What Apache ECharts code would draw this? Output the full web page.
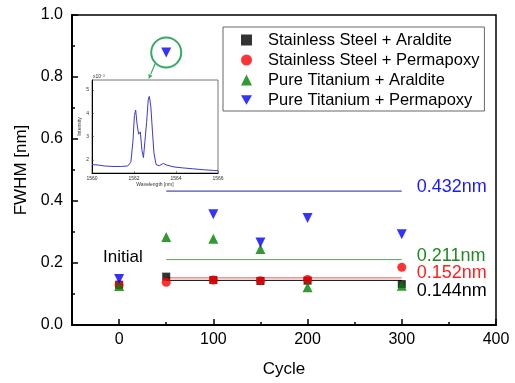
<!DOCTYPE html>
<html>
<head>
<meta charset="utf-8">
<script src="https://cdn.jsdelivr.net/npm/echarts@6/dist/echarts.min.js"></script>
<style>
  html, body { margin: 0; padding: 0; background: #fff; }
  #chart { width: 515px; height: 383px; }
</style>
</head>
<body>
<div id="chart"></div>
<script>
const cycles = [0, 50, 100, 150, 200, 300]
const seriesNames = [
  'Stainless Steel + Araldite',
  'Stainless Steel + Permapoxy',
  'Pure Titanium + Araldite',
  'Pure Titanium + Permapoxy'
]
const ssAraldite = [0.13, 0.156, 0.145, 0.142, 0.143, 0.132]
const ssPermapoxy = [0.13, 0.138, 0.145, 0.143, 0.147, 0.186]
const tiAraldite = [0.126, 0.284, 0.278, 0.245, 0.122, 0.127]
const tiPermapoxy = [0.148, 0.879, 0.357, 0.266, 0.345, 0.293]
// mean FWHM lines, same order as the series
const averageFwhm = [0.144, 0.152, 0.211, 0.432]
const averageRange = [50, 300]
const xTicks = [0, 100, 200, 300, 400]
const xMinorTicks = [50, 150, 250, 350]
// inset spectrum (x10^-3)
const spectrumWavelength = [1560.0, 1560.3, 1560.6, 1561.0, 1561.4, 1561.7, 1561.85, 1561.95, 1562.02, 1562.08,
  1562.15, 1562.22, 1562.3, 1562.38, 1562.45, 1562.52, 1562.6, 1562.68, 1562.73, 1562.8,
  1562.88, 1562.95, 1563.05, 1563.2, 1563.4, 1563.55, 1563.9, 1564.3, 1564.8, 1565.3, 1565.8, 1566.0]
const spectrumIntensity = [1.8, 1.78, 1.74, 1.72, 1.72, 1.74, 1.9, 2.8, 3.9, 4.13,
  3.5, 3.1, 3.2, 2.4, 2.1, 2.8, 3.6, 4.6, 4.72, 4.3,
  3.2, 2.3, 1.8, 1.75, 1.85, 1.78, 1.7, 1.66, 1.62, 1.58, 1.55, 1.54]
const insetYTicks = [2, 3, 4, 5]

const font = 'Arial, "Liberation Sans", sans-serif'
const markColors = ['#000000', '#ff0000', '#008000', '#0000ff']
const lineColors = ['#000000', '#ee5555', '#55aa55', '#22229a']
const labelColors = ['#000000', '#ff2020', '#228822', '#1a1aff']
const labelOffsets = [11, -5, -4, -4]
const symbols = ['rect', 'circle', 'triangle', 'triangle']
const symbolRotates = [0, 0, 0, 180]
const symbolSizes = [8, 9, 10, 10]
const legendIcons = ['rect', 'circle', 'triangle', 'path://M0,0L10,0L5,8.66Z']
const values = [ssAraldite, ssPermapoxy, tiAraldite, tiPermapoxy]

const chart = echarts.init(document.getElementById('chart'))

const scatterSeries = values.map((vals, i) => ({
  name: seriesNames[i],
  type: 'scatter',
  xAxisIndex: 0,
  yAxisIndex: 0,
  symbol: symbols[i],
  symbolRotate: symbolRotates[i],
  symbolSize: symbolSizes[i],
  itemStyle: { color: markColors[i] },
  data: cycles.map((c, j) => [c, vals[j]]),
  z: 3 + i
}))

const lineSeries = averageFwhm.map((v, i) => ({
  name: 'avg' + i,
  type: 'line',
  xAxisIndex: 0,
  yAxisIndex: 0,
  symbol: 'none',
  lineStyle: { color: lineColors[i], width: 1 },
  data: averageRange.map(x => [x, v]),
  endLabel: {
    show: true,
    distance: 15,
    offset: [0, labelOffsets[i]],
    formatter: p => p.value[1].toFixed(3) + 'nm',
    color: labelColors[i],
    fontSize: 18,
    fontFamily: font
  },
  z: 2
}))

chart.setOption({
  animation: false,
  textStyle: { fontFamily: font },
  legend: {
    data: seriesNames.map((name, i) => ({ name, icon: legendIcons[i] })),
    orient: 'vertical',
    left: 223,
    top: 27,
    padding: [3, 5, 1, 18],
    itemWidth: 11,
    itemHeight: 11,
    itemGap: 0,
    symbolKeepAspect: true,
    borderColor: '#666',
    borderWidth: 1,
    backgroundColor: '#fff',
    textStyle: { fontSize: 16.5, lineHeight: 20, color: '#000', fontFamily: font, padding: [0, 0, 0, 11] }
  },
  grid: [
    {
      left: 72, right: 19, top: 15, bottom: 56,
      show: true, borderColor: '#000', borderWidth: 1.5
    },
    {
      left: 92, top: 80, width: 126, height: 93,
      show: true, borderColor: '#777', borderWidth: 1, backgroundColor: '#fff'
    }
  ],
  xAxis: [
    {
      gridIndex: 0,
      type: 'value',
      min: -50,
      max: 400,
      name: 'Cycle',
      nameLocation: 'middle',
      nameGap: 36,
      nameTextStyle: { fontSize: 17, color: '#000' },
      axisLine: { onZero: false, lineStyle: { color: '#000', width: 2 } },
      axisTick: { inside: true, length: 6, customValues: xTicks, lineStyle: { color: '#000', width: 1.5 } },
      axisLabel: { customValues: xTicks, fontSize: 16, color: '#000', margin: 7 },
      splitLine: { show: false }
    },
    {
      gridIndex: 0,
      type: 'value',
      min: -50,
      max: 400,
      position: 'bottom',
      axisLine: { show: false, onZero: false },
      axisTick: { inside: true, length: 3, customValues: xMinorTicks, lineStyle: { color: '#000', width: 1.5 } },
      axisLabel: { show: false },
      splitLine: { show: false }
    },
    {
      gridIndex: 1,
      type: 'value',
      min: 1560,
      max: 1566,
      interval: 2,
      name: 'Wavelength [nm]',
      nameLocation: 'middle',
      nameGap: 9,
      nameTextStyle: { fontSize: 5, color: '#333' },
      axisLine: { onZero: false, lineStyle: { color: '#000', width: 1 } },
      axisTick: { inside: true, length: 2, lineStyle: { color: '#333', width: 0.5 } },
      axisLabel: { fontSize: 5, color: '#333', margin: 3, formatter: v => String(v) },
      splitLine: { show: false }
    }
  ],
  yAxis: [
    {
      gridIndex: 0,
      type: 'value',
      min: 0,
      max: 1,
      interval: 0.2,
      name: 'FWHM [nm]',
      nameLocation: 'middle',
      nameGap: 39,
      nameTextStyle: { fontSize: 17, color: '#000' },
      axisLine: { show: true, onZero: false, lineStyle: { color: '#000', width: 2 } },
      axisTick: { inside: true, length: 6, lineStyle: { color: '#000', width: 1.5 } },
      minorTick: { show: true, splitNumber: 2, length: 3, lineStyle: { color: '#000', width: 1.5 } },
      axisLabel: { fontSize: 16, color: '#000', margin: 9, formatter: v => v.toFixed(1) },
      splitLine: { show: false }
    },
    {
      gridIndex: 1,
      type: 'value',
      min: 1.44,
      max: 5.42,
      name: 'Intensity',
      nameLocation: 'middle',
      nameGap: 8,
      nameTextStyle: { fontSize: 5, color: '#333' },
      axisLine: { show: true, onZero: false, lineStyle: { color: '#000', width: 1 } },
      axisTick: { inside: true, length: 2, customValues: insetYTicks, lineStyle: { color: '#333', width: 0.5 } },
      axisLabel: { customValues: insetYTicks, fontSize: 5, color: '#333', margin: 3 },
      splitLine: { show: false }
    }
  ],
  series: [
    ...lineSeries,
    ...scatterSeries,
    {
      name: 'spectrum',
      type: 'line',
      xAxisIndex: 2,
      yAxisIndex: 1,
      symbol: 'none',
      lineStyle: { color: '#3a3acc', width: 1 },
      data: spectrumWavelength.map((w, i) => [w, spectrumIntensity[i]]),
      z: 5
    }
  ]
})

// annotations tied to the data coordinates
const circled = chart.convertToPixel({ seriesIndex: 7 }, [cycles[1], tiPermapoxy[1]])
const initialPos = chart.convertToPixel({ seriesIndex: 4 }, [4, 0.218])
const insetTop = chart.convertToPixel({ seriesIndex: 8 }, [1562.7, 5.42])
const arrowFrom = [circled[0] - 11, circled[1] + 11]
const arrowTo = [insetTop[0], insetTop[1] - 1]
const ang = Math.atan2(arrowTo[1] - arrowFrom[1], arrowTo[0] - arrowFrom[0])
const head = 5

chart.setOption({
  graphic: [
    {
      type: 'circle',
      shape: { cx: circled[0], cy: circled[1], r: 15 },
      style: { fill: 'none', stroke: '#33aa66', lineWidth: 2 },
      z: 100
    },
    {
      type: 'line',
      shape: { x1: arrowFrom[0], y1: arrowFrom[1], x2: arrowTo[0] - Math.cos(ang) * head, y2: arrowTo[1] - Math.sin(ang) * head },
      style: { stroke: '#33aa66', lineWidth: 1.2 },
      z: 100
    },
    {
      type: 'polygon',
      shape: {
        points: [
          arrowTo,
          [arrowTo[0] - Math.cos(ang - 0.45) * head, arrowTo[1] - Math.sin(ang - 0.45) * head],
          [arrowTo[0] - Math.cos(ang + 0.45) * head, arrowTo[1] - Math.sin(ang + 0.45) * head]
        ]
      },
      style: { fill: '#33aa66' },
      z: 100
    },
    {
      type: 'text',
      x: initialPos[0],
      y: initialPos[1],
      style: { text: 'Initial', fontSize: 17, fontFamily: font, fill: '#000', align: 'center', verticalAlign: 'middle' },
      z: 100
    },
    {
      type: 'text',
      x: 93,
      y: 74,
      style: { text: 'x10⁻³', fontSize: 5, fontFamily: font, fill: '#333' },
      z: 100
    }
  ]
})
</script>
</body>
</html>
